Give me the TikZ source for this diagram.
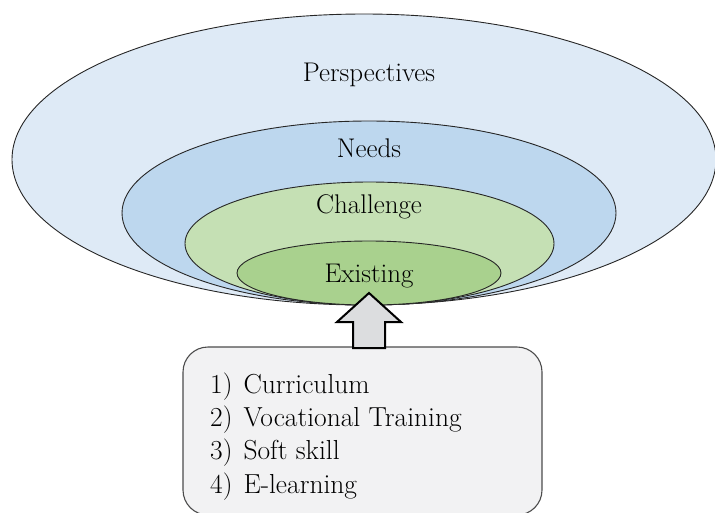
\documentclass[tikz,border=0pt]{standalone}
\usetikzlibrary{positioning,shapes.geometric,calc}
\definecolor{perspblue}{HTML}{DEEAF6}
\definecolor{needblue}{HTML}{BDD7EE}
\definecolor{challgreen}{HTML}{C5E0B4}
\definecolor{existgreen}{HTML}{A9D18E}
\definecolor{boxgray}{HTML}{F2F2F3}
\definecolor{arrgray}{HTML}{DCDDDF}
\tikzset{
  ring/.style={ellipse, draw=black!85, line width=0.9pt, inner sep=0pt},
  ringlab/.style={font=\fontsize{27}{32}\selectfont, inner sep=0pt, anchor=base},
  listbox/.style={draw=black!70, line width=1.1pt, rounded corners=25pt, fill=boxgray},
  listitem/.style={font=\fontsize{27.5}{33}\selectfont, inner sep=0pt, anchor=base west},
  uparr/.style={draw=black, line width=2pt, fill=arrgray, line join=miter},
}

\begin{document}
\begin{tikzpicture}[x=1pt, y=-1pt]
    \useasboundingbox (0,0) rectangle (715,512);
    % nested rings
    \node[ring, fill=perspblue, minimum width=704pt, minimum height=291pt] (persp) at (364,159.5) {};
    \node[ring, fill=needblue, minimum width=494pt, minimum height=184pt] (needs) at (369,213) {};
    \node[ring, fill=challgreen, minimum width=369pt, minimum height=123pt] (chall) at (369.5,243.5) {};
    \node[ring, fill=existgreen, minimum width=264pt, minimum height=64pt] (exist) at (369,273) {};
    \node[ringlab] (lpersp) at (369,81) {Perspectives};
    \node[ringlab] (lneeds) at (369,157) {Needs};
    \node[ringlab] (lchall) at (369,213) {Challenge};
    \node[ringlab] (lexist) at (369,282) {Existing};
    % list of items
    \node[listbox, minimum width=359pt, minimum height=168pt] (box) at (362.5,431) {};
    \node[listitem] (item1) at (210,393) {1)\hspace{0.4em}Curriculum};
    \node[listitem] (item2) at (210,426) {2)\hspace{0.4em}Vocational Training};
    \node[listitem] (item3) at (210,459) {3)\hspace{0.4em}Soft skill};
    \node[listitem] (item4) at (210,493) {4)\hspace{0.4em}E-learning};
    % block arrow from list to rings
    \coordinate (arrbase) at (369,348);
    \coordinate (arrtip) at (369,293);
    \draw[uparr] (arrtip) -- ($(arrtip)+(32,29)$) -- ($(arrtip)+(16,29)$)
      -- ($(arrbase)+(16,0)$) -- ($(arrbase)+(-16,0)$) -- ($(arrtip)+(-16,29)$)
      -- ($(arrtip)+(-32,29)$) -- cycle;
\end{tikzpicture}
\end{document}
